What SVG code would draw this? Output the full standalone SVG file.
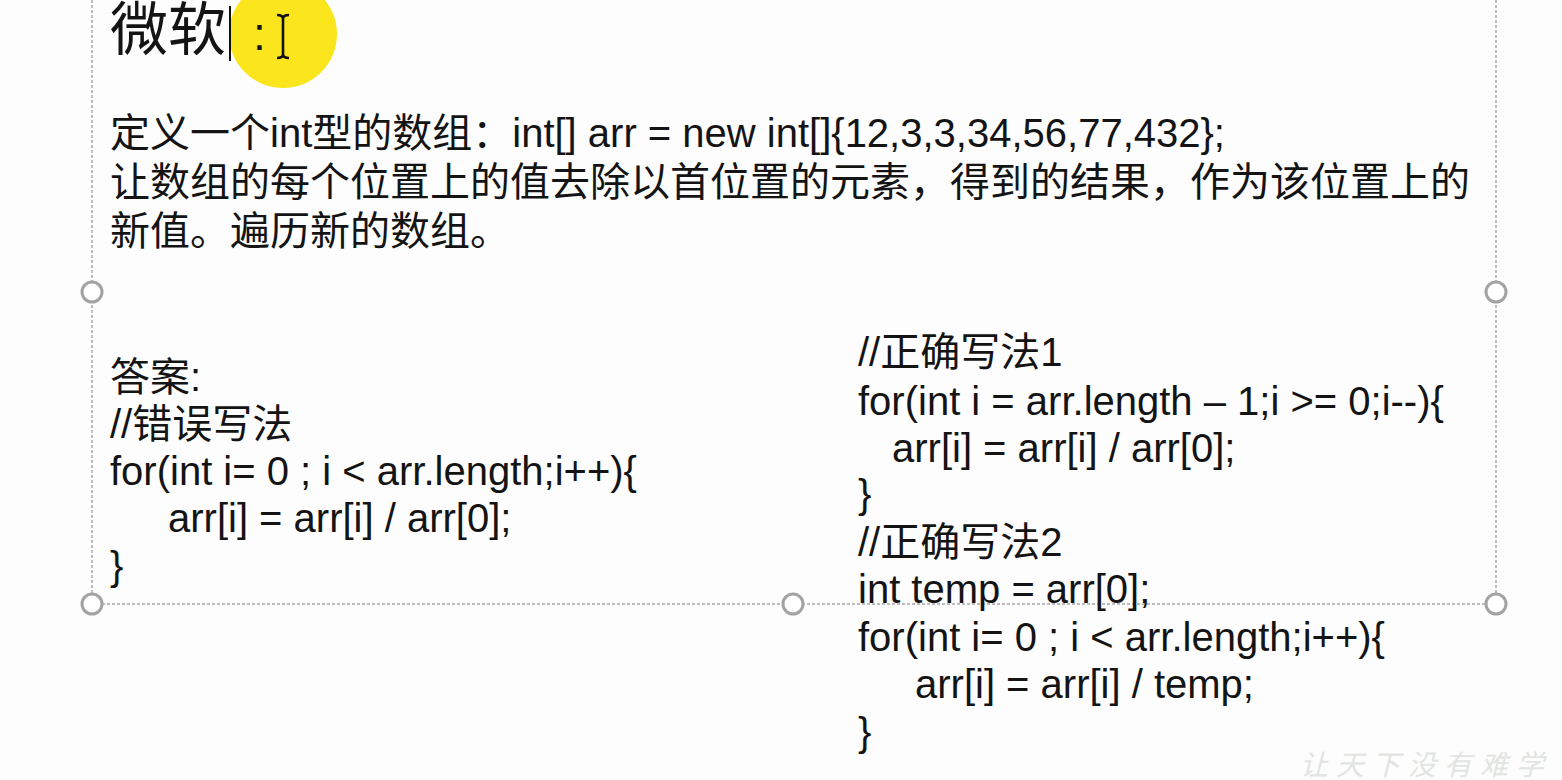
<svg xmlns="http://www.w3.org/2000/svg" width="1562" height="780" viewBox="0 0 1562 780">
<style>
.t{font-family:"Liberation Sans","Noto Sans CJK SC",sans-serif;font-size:40px;fill:#141414}
.frame{fill:none;stroke:#a6a6a6;stroke-width:1.5;stroke-dasharray:3 2}
.handle{fill:#ffffff;stroke:#a3a3a3;stroke-width:3}
</style>
<rect width="1562" height="780" fill="#fcfdfc"/>
<g id="frame">
<line class="frame" x1="92" y1="0" x2="92" y2="604"/>
<line class="frame" x1="1496" y1="0" x2="1496" y2="604"/>
<line class="frame" x1="92" y1="604" x2="1496" y2="604"/>
<circle class="handle" cx="92" cy="292" r="10"/>
<circle class="handle" cx="1496" cy="292" r="10"/>
<circle class="handle" cx="92" cy="604" r="10"/>
<circle class="handle" cx="793" cy="604" r="10"/>
<circle class="handle" cx="1496" cy="604" r="10"/>
</g>
<g id="title">
<circle cx="283" cy="34" r="54" fill="#fbe61d"/>
<text class="t" x="110" y="50" style="font-size:58px">微软<tspan x="253" style="font-family:'Liberation Sans',sans-serif;font-size:46px">:</tspan></text>
<line x1="230" y1="6" x2="230" y2="61" stroke="#111" stroke-width="2"/>
<path d="M277 15q6 0 6 4M289 15q-6 0-6 4M283 17v39M277 58q6 0 6-4M289 58q-6 0-6-4" fill="none" stroke="#111" stroke-width="2.6"/>
</g>
<g id="question">
<text class="t" x="110" y="147">定义一个int型的数组：int[] arr = new int[]{12,3,3,34,56,77,432};</text>
<text class="t" x="110" y="196">让数组的每个位置上的值去除以首位置的元素，得到的结果，作为该位置上的</text>
<text class="t" x="110" y="245">新值。遍历新的数组。</text>
</g>
<g id="answer-wrong">
<text class="t" x="110" y="391">答案:</text>
<text class="t" x="110" y="438">//错误写法</text>
<text class="t" x="110" y="485">for(int i= 0 ; i &lt; arr.length;i++){</text>
<text class="t" x="168" y="532">arr[i] = arr[i] / arr[0];</text>
<text class="t" x="110" y="580">}</text>
</g>
<g id="answer-right">
<text class="t" x="858" y="366">//正确写法1</text>
<text class="t" x="858" y="415">for(int i = arr.length – 1;i &gt;= 0;i--){</text>
<text class="t" x="892" y="462">arr[i] = arr[i] / arr[0];</text>
<text class="t" x="858" y="508">}</text>
<text class="t" x="858" y="556">//正确写法2</text>
<text class="t" x="858" y="603">int temp = arr[0];</text>
<text class="t" x="858" y="651">for(int i= 0 ; i &lt; arr.length;i++){</text>
<text class="t" x="915" y="698">arr[i] = arr[i] / temp;</text>
<text class="t" x="858" y="746">}</text>
</g>
<g id="watermark">
<text x="1300" y="775" style="font-family:'Noto Sans CJK SC',sans-serif;font-size:28px;font-style:italic;fill:#e2e4e2;letter-spacing:8px">让天下没有难学</text>
</g>
</svg>
